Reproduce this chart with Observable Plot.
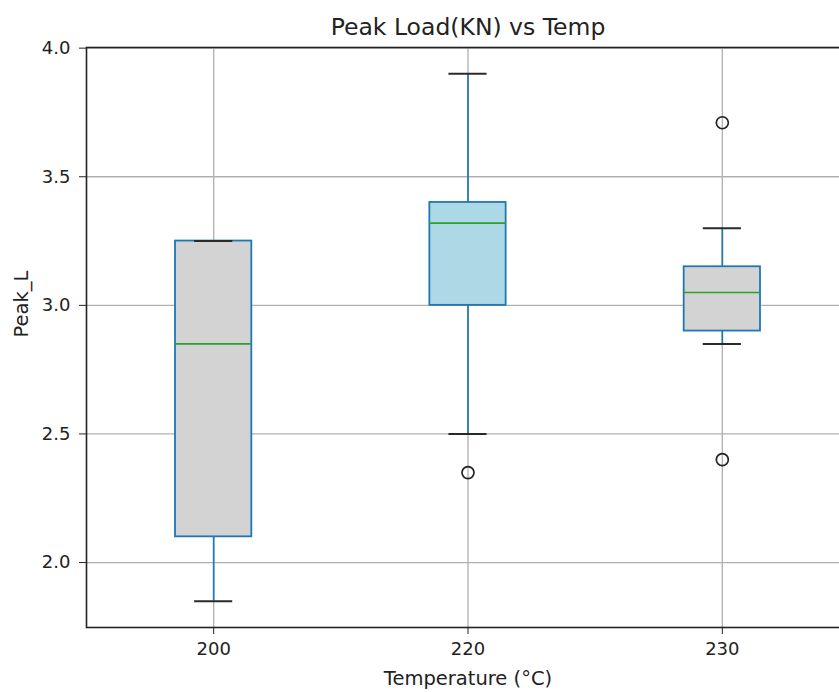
<!DOCTYPE html>
<html>
<head>
<meta charset="utf-8">
<script src="https://cdn.jsdelivr.net/npm/d3@7"></script>
<script src="https://cdn.jsdelivr.net/npm/@observablehq/plot@0.6"></script>
<style>
  html, body { margin: 0; padding: 0; background: #fff; }
  #wrap { width: 839px; height: 692px; overflow: hidden; }
  #wrap svg { max-width: none !important; display: block; font-family: "DejaVu Sans", sans-serif; }
  #wrap svg text { font-family: "DejaVu Sans", sans-serif; }
</style>
</head>
<body>
<div id="wrap"></div>
<script>
// ---- data ----
const temps = ["200", "220", "230"];
const whiskerLow = [1.85, 2.5, 2.85];
const q1 = [2.1, 3.0, 2.9];
const median = [2.85, 3.32, 3.05];
const q3 = [3.25, 3.40, 3.15];
const whiskerHigh = [3.25, 3.9, 3.3];
const outlierTemp = ["220", "230", "230"];
const outlierValue = [2.35, 3.71, 2.4];
const yTicks = [2.0, 2.5, 3.0, 3.5, 4.0];

// ---- styles ----
const boxFill = {"200": "#d3d3d3", "220": "#add8e6", "230": "#d3d3d3"};
const BLUE = "#1f77b4", GREEN = "#2ca02c", INK = "#222";
const BOX_HALF = 0.15, CAP_HALF = 0.075;

const rows = temps.map((t, i) => ({
  temp: t, pos: i + 1,
  lo: whiskerLow[i], q1: q1[i], med: median[i], q3: q3[i], hi: whiskerHigh[i]
}));
const outliers = outlierTemp.map((t, i) => ({pos: temps.indexOf(t) + 1, v: outlierValue[i]}));

const chart = Plot.plot({
  width: 849,
  height: 692,
  marginLeft: 86,
  marginRight: 0,
  marginTop: 47,
  marginBottom: 65,
  style: {fontFamily: "'DejaVu Sans', sans-serif", background: "#fff", color: INK},
  x: {domain: [0.5, 3.5], axis: null},
  y: {domain: [1.7475, 4.0025], axis: null},
  marks: [
    Plot.gridX([1, 2, 3], {stroke: "#b0b0b0", strokeOpacity: 1, strokeWidth: 1.3}),
    Plot.gridY(yTicks, {stroke: "#b0b0b0", strokeOpacity: 1, strokeWidth: 1.3}),
    // whiskers
    Plot.ruleX(rows, {x: "pos", y1: "lo", y2: "q1", stroke: BLUE, strokeWidth: 1.7}),
    Plot.ruleX(rows, {x: "pos", y1: "q3", y2: "hi", stroke: BLUE, strokeWidth: 1.7}),
    // boxes
    Plot.rect(rows, {
      x1: d => d.pos - BOX_HALF, x2: d => d.pos + BOX_HALF,
      y1: "q1", y2: "q3",
      fill: d => boxFill[d.temp], stroke: BLUE, strokeWidth: 1.8
    }),
    // medians
    Plot.ruleY(rows, {y: "med", x1: d => d.pos - BOX_HALF, x2: d => d.pos + BOX_HALF, stroke: GREEN, strokeWidth: 1.7}),
    // caps
    Plot.ruleY(rows, {y: "lo", x1: d => d.pos - CAP_HALF, x2: d => d.pos + CAP_HALF, stroke: "#2a2a2a", strokeWidth: 2}),
    Plot.ruleY(rows, {y: "hi", x1: d => d.pos - CAP_HALF, x2: d => d.pos + CAP_HALF, stroke: "#2a2a2a", strokeWidth: 2}),
    // outliers
    Plot.dot(outliers, {x: "pos", y: "v", r: 6, fill: "none", stroke: "#222", strokeWidth: 1.7}),
    // axes
    Plot.axisY(yTicks, {
      tickFormat: d3.format(".1f"), tickSize: 7, tickPadding: 9,
      fontSize: 18, label: null, stroke: INK, fill: INK
    }),
    Plot.axisX([1, 2, 3], {
      tickFormat: d => temps[d - 1], tickSize: 7, tickPadding: 8,
      fontSize: 18, label: null, stroke: INK, fill: INK
    }),
    Plot.frame({stroke: INK, strokeWidth: 1.6}),
    // texts
    Plot.text(["Peak Load(KN) vs Temp"], {
      frameAnchor: "top", dy: -20, lineAnchor: "middle", fontSize: 23.5, fill: INK
    }),
    Plot.text(["Temperature (°C)"], {
      frameAnchor: "bottom", dy: 51, lineAnchor: "middle", fontSize: 19.5, fill: INK
    }),
    Plot.text(["Peak_L"], {
      frameAnchor: "left", dx: -65, rotate: -90, lineAnchor: "middle", fontSize: 19.5, fill: INK
    })
  ]
});
chart.style.maxWidth = "none";
document.getElementById("wrap").appendChild(chart);
</script>
</body>
</html>
